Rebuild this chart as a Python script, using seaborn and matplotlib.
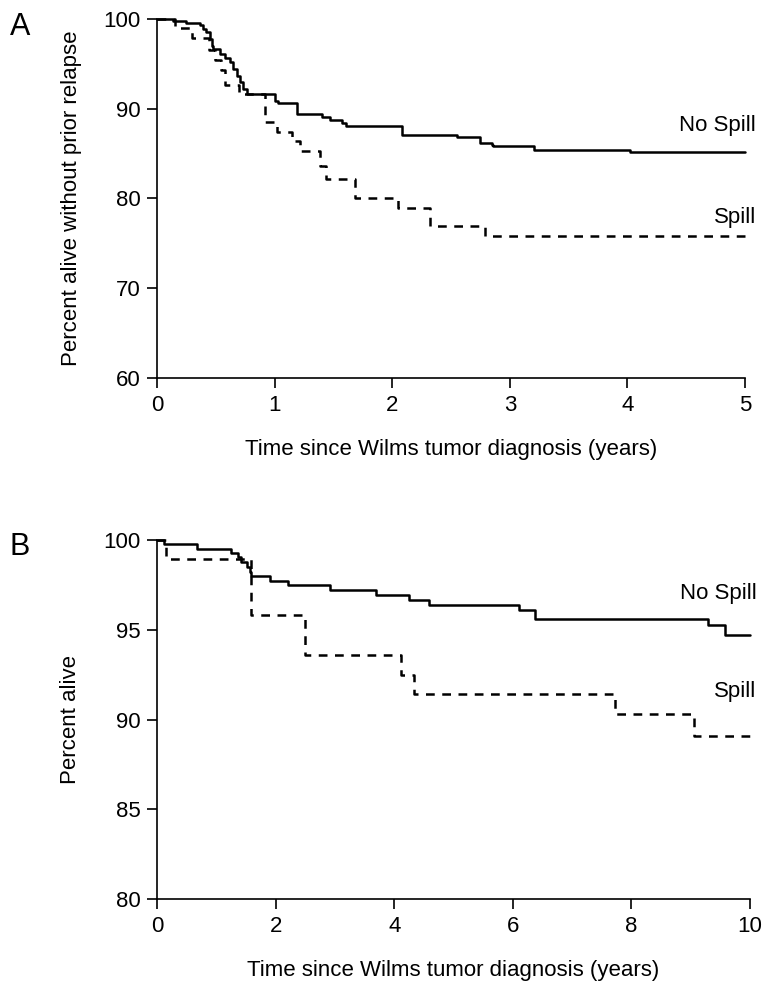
import matplotlib
matplotlib.use('Agg')
import matplotlib.pyplot as plt
import seaborn as sns
import pandas as pd

# Kaplan-Meier step data
# Panel A: event-free survival (percent alive without prior relapse), years 0-5
a_nospill_t = [0, 0.14, 0.25, 0.366, 0.39, 0.42, 0.45, 0.465, 0.48, 0.536, 0.58, 0.62,
               0.65, 0.68, 0.706, 0.734, 0.763, 1.0, 1.03, 1.19, 1.40, 1.47, 1.57, 1.61,
               2.08, 2.55, 2.75, 2.85, 2.86, 3.21, 4.02, 5.0]
a_nospill_s = [100, 99.8, 99.6, 99.3, 98.9, 98.5, 97.8, 97.0, 96.7, 96.1, 95.7, 95.2,
               94.4, 93.7, 92.95, 92.2, 91.65, 90.9, 90.6, 89.4, 89.1, 88.75, 88.4, 88.1,
               87.1, 86.8, 86.2, 86.0, 85.8, 85.4, 85.2, 85.2]

a_spill_t = [0, 0.15, 0.30, 0.44, 0.49, 0.54, 0.58, 0.70, 0.92, 1.02, 1.15, 1.22, 1.39,
             1.44, 1.68, 2.05, 2.32, 2.79, 5.0]
a_spill_s = [100, 99.0, 97.9, 96.6, 95.4, 94.3, 92.7, 91.6, 88.5, 87.4, 86.4, 85.3, 83.6,
             82.15, 80.0, 78.9, 76.9, 75.8, 75.8]

# Panel B: overall survival (percent alive), years 0-10
b_nospill_t = [0, 0.11, 0.67, 1.25, 1.37, 1.42, 1.51, 1.56, 1.59, 1.90, 2.21, 2.91, 3.69,
               4.25, 4.59, 6.10, 6.38, 9.29, 9.57, 10.0]
b_nospill_s = [100, 99.76, 99.5, 99.26, 99.07, 98.8, 98.5, 98.23, 97.99, 97.73, 97.49, 97.2,
               96.96, 96.65, 96.4, 96.1, 95.6, 95.25, 94.7, 94.7]

b_spill_t = [0, 0.15, 1.58, 2.50, 4.11, 4.33, 7.72, 9.05, 10.0]
b_spill_s = [100, 98.94, 95.8, 93.6, 92.5, 91.4, 90.3, 89.1, 89.1]

sns.set_style('ticks')
plt.rcParams['font.family'] = ['Liberation Sans', 'DejaVu Sans']
plt.rcParams['font.size'] = 16
plt.rcParams['text.color'] = 'black'
plt.rcParams['axes.labelcolor'] = 'black'

fig = plt.figure(figsize=(7.71, 9.93), dpi=100)
ax_a = fig.add_axes([157 / 771, 1 - 378 / 993, 588 / 771, 359 / 993])
ax_b = fig.add_axes([157 / 771, 1 - 899 / 993, 593 / 771, 359 / 993])

dash = (0, (3.5, 3))


def km_plot(ax, t, s, ls):
    df = pd.DataFrame({'t': t, 's': s})
    sns.lineplot(data=df, x='t', y='s', ax=ax, estimator=None, color='black',
                 linewidth=1.8, linestyle=ls, drawstyle='steps-post', clip_on=False)


km_plot(ax_a, a_nospill_t, a_nospill_s, '-')
km_plot(ax_a, a_spill_t, a_spill_s, dash)
km_plot(ax_b, b_nospill_t, b_nospill_s, '-')
km_plot(ax_b, b_spill_t, b_spill_s, dash)

# --- Panel A ---
ax_a.set_xlim(0, 5)
ax_a.set_ylim(60, 100)
ax_a.set_xticks(range(0, 6))
ax_a.set_yticks(range(60, 101, 10))
ax_a.set_xlabel('Time since Wilms tumor diagnosis (years)')
ax_a.set_ylabel('Percent alive without prior relapse')
ax_a.text(5.094, 87.5, 'No Spill', ha='right', va='baseline')
ax_a.text(5.094, 77.3, 'Spill', ha='right', va='baseline')

# --- Panel B ---
ax_b.set_xlim(0, 10)
ax_b.set_ylim(80, 100)
ax_b.set_xticks(range(0, 11, 2))
ax_b.set_yticks(range(80, 101, 5))
ax_b.set_xlabel('Time since Wilms tumor diagnosis (years)')
ax_b.set_ylabel('Percent alive')
ax_b.text(10.11, 96.72, 'No Spill', ha='right', va='baseline')
ax_b.text(10.11, 91.28, 'Spill', ha='right', va='baseline')

for ax in (ax_a, ax_b):
    sns.despine(ax=ax)
    for side in ('left', 'bottom'):
        ax.spines[side].set_linewidth(1.2)
        ax.spines[side].set_color('black')
    ax.tick_params(length=7, width=1.2, pad=5, colors='black', labelsize=16)
    ax.xaxis.set_label_coords(0.5, -0.17)
    ax.yaxis.set_label_coords(-0.128, 0.5)

fig.text(10 / 771, 1 - 35 / 993, 'A', fontsize=22, va='baseline')
fig.text(10 / 771, 1 - 555 / 993, 'B', fontsize=22, va='baseline')

fig.savefig('out.png', dpi=100)
